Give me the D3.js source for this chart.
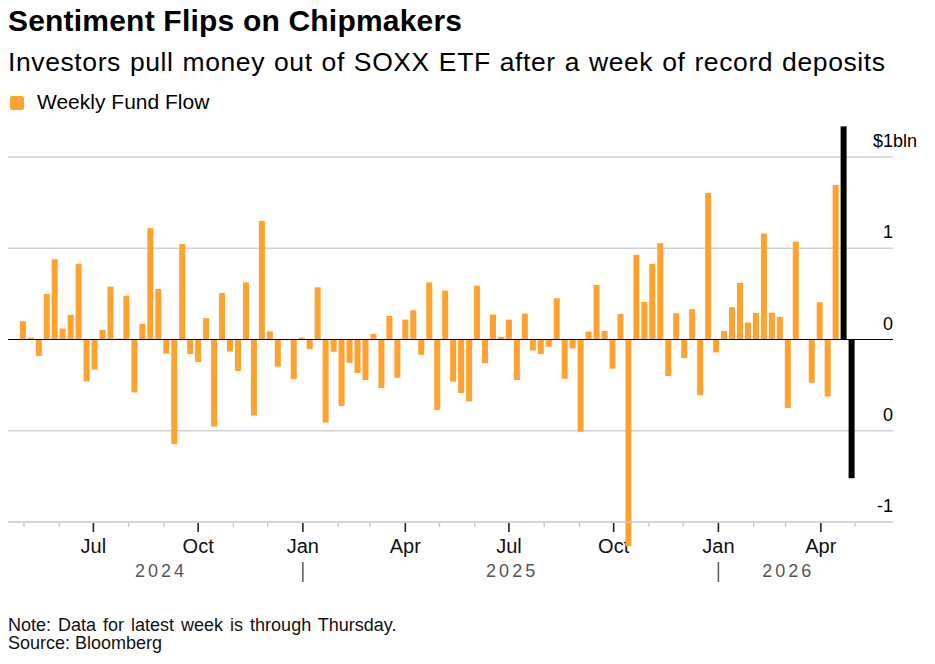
<!DOCTYPE html>
<html>
<head>
<meta charset="utf-8">
<script src="https://cdn.jsdelivr.net/npm/d3@7"></script>
<style>
  body { margin: 0; background: #fff; }
  text { font-family: "Liberation Sans", Arial, Helvetica, sans-serif; }
</style>
</head>
<body>
<div id="vis"></div>
<script>
// weekly flows into SOXX, $bln
var flows = [
  0.10, 0.01, -0.09, 0.25, 0.44, 0.06, 0.135, 0.415, -0.23, -0.165,
  0.053, 0.29, 0.005, 0.24, -0.29, 0.086, 0.61, 0.277, -0.077, -0.574,
  0.523, -0.08, -0.124, 0.117, -0.477, 0.255, -0.066, -0.173, 0.313, -0.417,
  0.65, 0.045, -0.149, 0, -0.217, 0.01, -0.053, 0.286, -0.455, -0.067,
  -0.364, -0.128, -0.184, -0.222, 0.031, -0.266, 0.129, -0.21, 0.109, 0.16,
  -0.084, 0.313, -0.386, 0.268, -0.231, -0.293, -0.339, 0.295, -0.13, 0.137,
  0.015, 0.109, -0.222, 0.142, -0.06, -0.08, -0.04, 0.226, -0.215, -0.049,
  -0.505, 0.044, 0.299, 0.047, -0.16, 0.14, -1.133, 0.464, 0.206, 0.415,
  0.528, -0.2, 0.144, -0.102, 0.166, -0.306, 0.803, -0.071, 0.046, 0.177,
  0.31, 0.093, 0.146, 0.581, 0.146, 0.124, -0.375, 0.536, 0, -0.237,
  0.204, -0.313, 0.847, 1.168, -0.76
];
var firstWeek = new Date(2024, 3, 30);
var highlightWeeks = 2; // last two weeks drawn in black

var yTicks = [1, 0.5, 0, -0.5, -1];
var yLabels = ["$1bln", "1", "0", "0", "-1"];
var quarterLabels = {0: "Jan", 3: "Apr", 6: "Jul", 9: "Oct"};
var years = [2024, 2025, 2026];

var title = "Sentiment Flips on Chipmakers";
var subtitle = "Investors pull money out of SOXX ETF after a week of record deposits";
var legendLabel = "Weekly Fund Flow";
var note = "Note: Data for latest week is through Thursday.";
var source = "Source: Bloomberg";

var W = 935, H = 664;
var gridLeft = 8, gridRight = 893;
var orange = "#ffa22e";

var weeks = flows.map(function(d, i) { return d3.timeDay.offset(firstWeek, 7 * i); });
var data = d3.zip(weeks, flows);

var start = new Date(2024, 3, 24), end = new Date(2026, 4, 1);
var x = d3.scaleTime().domain([start, end]).range([16, 855]);
var y = d3.scaleLinear().domain([-1, 1]).range([522, 157]);

var svg = d3.select("#vis").append("svg")
    .attr("width", W)
    .attr("height", H);

// header
svg.append("text")
    .attr("x", 8).attr("y", 31)
    .attr("font-size", 30).attr("font-weight", "bold")
    .attr("letter-spacing", 0.2)
    .attr("fill", "#000")
    .text(title);

svg.append("text")
    .attr("x", 8).attr("y", 71)
    .attr("font-size", 26.5)
    .attr("letter-spacing", 0.6).attr("word-spacing", 1)
    .attr("fill", "#000")
    .text(subtitle);

svg.append("rect")
    .attr("x", 10).attr("y", 96)
    .attr("width", 14).attr("height", 14)
    .attr("rx", 2)
    .attr("fill", orange);
svg.append("text")
    .attr("x", 37).attr("y", 109)
    .attr("font-size", 21)
    .attr("fill", "#000")
    .text(legendLabel);

// gridlines + right labels
var grid = svg.append("g");
grid.selectAll("line")
    .data(yTicks.filter(function(d) { return d != 0; }))
  .enter().append("line")
    .attr("x1", gridLeft).attr("x2", gridRight)
    .attr("y1", function(d) { return y(d); })
    .attr("y2", function(d) { return y(d); })
    .attr("stroke", "#d2d2d2")
    .attr("stroke-width", 1.6);

// top label carries the unit and hangs past the right edge
grid.selectAll("text")
    .data(yTicks)
  .enter().append("text")
    .attr("x", function(d, i) { return i == 0 ? gridRight - 20 : gridRight; })
    .attr("y", function(d) { return y(d) - 10; })
    .attr("text-anchor", function(d, i) { return i == 0 ? "start" : "end"; })
    .attr("font-size", 18)
    .attr("fill", "#000")
    .text(function(d, i) { return yLabels[i]; });

// month ticks along the bottom
var months = d3.timeMonth.range(d3.timeMonth.ceil(start), d3.timeDay.offset(end, 1));
var ticks = svg.append("g");
ticks.selectAll("line")
    .data(months)
  .enter().append("line")
    .attr("x1", function(d) { return x(d); })
    .attr("x2", function(d) { return x(d); })
    .attr("y1", y(-1) + 1)
    .attr("y2", function(d) { return quarterLabels[d.getMonth()] ? y(-1) + 10 : y(-1) + 5; })
    .attr("stroke", function(d) { return quarterLabels[d.getMonth()] ? "#222" : "#c4c4c4"; })
    .attr("stroke-width", function(d) { return quarterLabels[d.getMonth()] ? 1.6 : 1.3; });

ticks.selectAll("text")
    .data(months.filter(function(d) { return quarterLabels[d.getMonth()]; }))
  .enter().append("text")
    .attr("x", function(d) { return x(d); })
    .attr("y", 553)
    .attr("text-anchor", "middle")
    .attr("font-size", 20)
    .attr("fill", "#111")
    .text(function(d) { return quarterLabels[d.getMonth()]; });

// year labels, centred on the part of each year that is shown
var yearG = svg.append("g");
years.forEach(function(yr) {
  var a = new Date(yr, 0, 1), b = new Date(yr + 1, 0, 1);
  var x0 = x(a < start ? start : a), x1 = x(b > end ? end : b);
  yearG.append("text")
      .attr("x", (x0 + x1) / 2 + 1.5)
      .attr("y", 577)
      .attr("text-anchor", "middle")
      .attr("font-size", 18)
      .attr("letter-spacing", 3)
      .attr("fill", "#555")
      .text(yr);
  if (a > start) {
    yearG.append("line")
        .attr("x1", x(a)).attr("x2", x(a))
        .attr("y1", 562).attr("y2", 582)
        .attr("stroke", "#555")
        .attr("stroke-width", 1.5);
  }
});

// bars
var barW = 6;
var n = data.length;
svg.append("g").selectAll("rect")
    .data(data)
  .enter().append("rect")
    .attr("x", function(d) { return x(d[0]) - barW / 2; })
    .attr("y", function(d) { return d[1] > 0 ? y(d[1]) : y(0); })
    .attr("width", barW)
    .attr("height", function(d) { return Math.abs(y(d[1]) - y(0)); })
    .attr("fill", function(d, i) { return i >= n - highlightWeeks ? "#000" : orange; });

// zero line
svg.append("line")
    .attr("x1", gridLeft).attr("x2", gridRight)
    .attr("y1", y(0)).attr("y2", y(0))
    .attr("stroke", "#000")
    .attr("stroke-width", 1.2);

// axis baseline
svg.append("line")
    .attr("x1", gridLeft).attr("x2", gridRight)
    .attr("y1", y(-1)).attr("y2", y(-1))
    .attr("stroke", "#d2d2d2")
    .attr("stroke-width", 1.6);

// footer
svg.append("text")
    .attr("x", 8).attr("y", 631)
    .attr("font-size", 18).attr("word-spacing", 2)
    .attr("fill", "#111")
    .text(note);
svg.append("text")
    .attr("x", 8).attr("y", 649)
    .attr("font-size", 18)
    .attr("fill", "#111")
    .text(source);
</script>
</body>
</html>
